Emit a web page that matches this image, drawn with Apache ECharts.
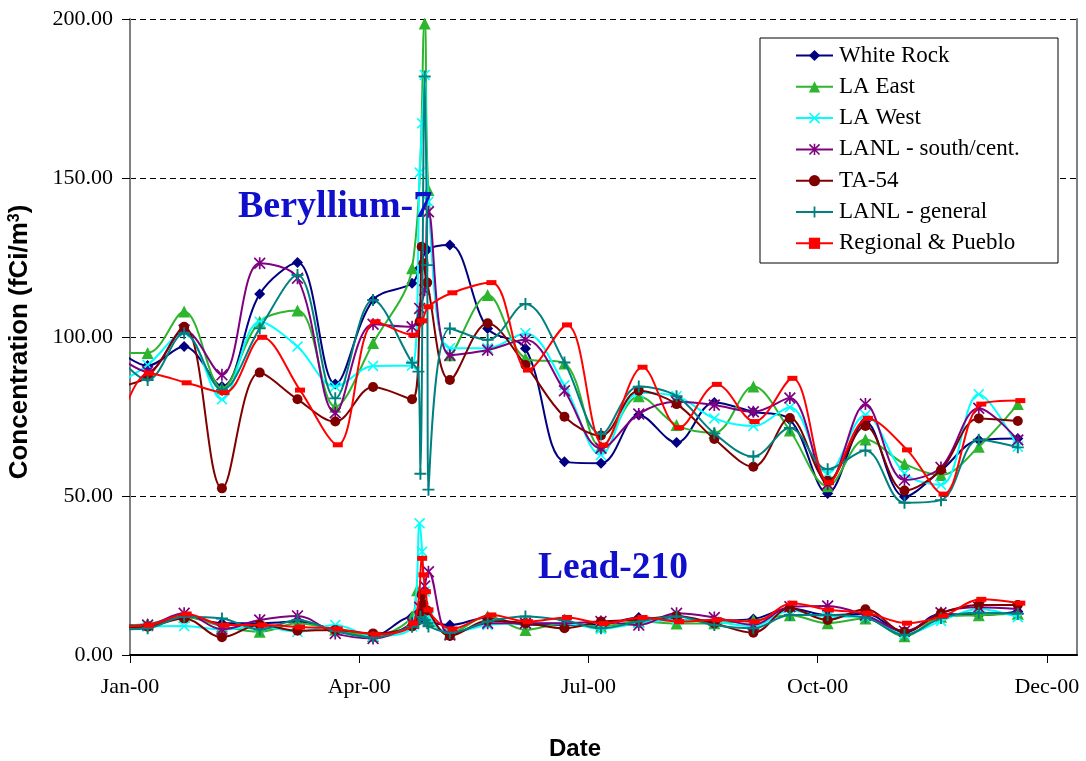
<!DOCTYPE html>
<html><head><meta charset="utf-8">
<script src="https://cdn.jsdelivr.net/npm/echarts@6/dist/echarts.min.js"></script>
<style>html,body{margin:0;padding:0;background:#fff}#c{width:1086px;height:761px}</style>
</head><body><div id="c"></div><script>
// x values are days since 1 Jan 2000
const xTickLabels = ['Jan-00', 'Apr-00', 'Jul-00', 'Oct-00', 'Dec-00'];
const yTickValues = [0, 50, 100, 150, 200];

const wrDays = [-8, 7, 21.5, 36.5, 51.5, 66.5, 81.5, 96.5, 112, 115, 118, 127, 142, 157, 172.5, 187, 202, 217, 232, 247.5, 262, 277, 292, 307.5, 322, 337, 352.5];
const wrBe7  = [98, 91, 97, 84.4, 113.5, 123.4, 85.2, 111.6, 116.9, 121.6, 127.4, 128.9, 102.7, 96.4, 60.8, 60.3, 75.5, 66.8, 79.4, 76.5, 74, 50.8, 73.4, 49.8, 58, 67.6, 68.1];
const wrPb   = [9.5, 9.4, 12, 10, 10, 10.5, 8, 6, 12, 11, 10.5, 9.4, 11.8, 9.5, 9.5, 9.5, 11.8, 11, 10.8, 11.3, 14.7, 12.5, 13, 7, 13, 12.5, 13.7];

const leDays = [-8, 7, 21.5, 36.5, 51.5, 66.5, 81.5, 96.5, 112, 114, 117, 118.5, 127, 142, 157, 172.5, 187, 202, 217, 232, 247.5, 262, 277, 292, 307.5, 322, 337, 352.5];
const leBe7  = [95, 95, 108, 83.9, 104.8, 108.3, 78.1, 98.1, 121.6, null, 198.6, 146.2, 94.3, 113.2, 93.3, 91.7, 65.5, 81.4, 72.3, 69.9, 84.4, 70.6, 53.1, 67.8, 60.1, 56.6, 65.5, 78.9];
const lePb   = [9, 9.8, 12, 9, 7.3, 10, 8, 6, 12, 20.4, 14, 11, 7, 12.2, 7.9, 10, 9, 10.5, 9.9, 10, 10.9, 12.5, 10, 11.5, 5.9, 12, 12.5, 13];

const lwDays = [-8, 7, 21.5, 36.5, 51.5, 66.5, 81.5, 96.5, 112, 115, 116, 117, 118.5, 127, 142, 157, 172.5, 187, 202, 217, 232, 247.5, 262, 277, 292, 307.5, 322, 337, 352.5];
const lwBe7  = [84, 91.2, 101.5, 80.4, 104.8, 97, 84.4, 90.9, 91, 151.7, 167.2, 182.4, 142.5, 96.5, 96.5, 101.2, 84.8, 62.9, 82.5, 81.4, 74.4, 72, 77.9, 57.1, 75.5, 57.1, 53.5, 82, 65.5];
const lwPb   = [8.5, 9, 9.1, 8, 9, 7.3, 9.4, 6, 9, 41.4, 32.5, 20, 12, 7, 9.4, 10, 10, 8.2, 10, 11, 10.5, 9, 14, 12, 12, 6.5, 10.7, 14.5, 11.9];

const lsDays = [-8, 7, 21.5, 36.5, 51.5, 66.5, 81.5, 96.5, 112, 115, 117, 118.5, 127, 142, 157, 172.5, 187, 202, 217, 232, 247.5, 262, 277, 292, 307.5, 322, 337, 352.5];
const lsBe7  = [96, 89.1, 102.2, 88.1, 123.2, 118.5, 76.2, 104, 103.2, 109, 114.8, 139.4, 94.3, 95.9, 99.1, 83.1, 65, 75.8, 79.6, 78.6, 76.5, 80.8, 53.8, 78.9, 55, 59, 77.6, 67.6];
const lsPb   = [9, 9.4, 13.1, 8.1, 11, 12.3, 6.8, 5.2, 10, 15, 21.7, 26.2, 6.3, 10, 10, 10, 10.5, 9.4, 13.1, 11.8, 9.5, 15.2, 15.4, 12.5, 7.5, 13.3, 15, 14.5];

const taDays = [-8, 7, 21.5, 36.5, 51.5, 66.5, 81.5, 96.5, 112, 115, 115.8, 116.5, 118, 127, 142, 157, 172.5, 187, 202, 217, 232, 247.5, 262, 277, 292, 307.5, 322, 337, 352.5];
const taBe7  = [84, 87.5, 103.2, 52.4, 88.8, 80.4, 73.4, 84.3, 80.4, 104.8, 128.4, 123.2, 117.1, 86.5, 104.3, 91.2, 74.9, 69, 83.1, 78.9, 67.9, 59.2, 74.5, 54.8, 72, 51.7, 58.2, 74.4, 73.6];
const taPb   = [8.5, 8.9, 11.5, 5.6, 9.5, 7.6, 7.9, 6.8, 9, 13, 18.9, 16, 14, 6, 10.8, 10.1, 8.4, 10.5, 11.1, 12.3, 9.9, 7, 14.7, 11, 14.4, 7.3, 13.1, 15.7, 15.7];

const lgDays = [-8, 7, 21.5, 36.5, 51.5, 66.5, 81.5, 96.5, 112, 114.5, 115.3, 117, 118, 118.5, 127, 142, 157, 172.5, 187, 202, 217, 232, 247.5, 262, 277, 292, 307.5, 322, 337, 352.5];
const lgBe7  = [97, 86.5, 101.2, 83.4, 102.7, 119.5, 80.7, 111.6, 91.9, 89.1, 57, 181.9, 122.6, 52, 102.7, 99.1, 110.4, 92, 69.5, 84.4, 81.4, 69.7, 62.4, 71.4, 58.4, 64.3, 47.9, 48.7, 67.7, 65.3];
const lgPb   = [8, 8.4, 12, 11.5, 8, 11, 7.5, 5.5, 8.9, 10, 12, 11, 10, 9, 7, 10.5, 12.1, 10.9, 8.4, 10.5, 12.1, 9.4, 8.4, 12.6, 12.6, 11.8, 6.3, 11.6, 13.3, 13];

const rpDays = [-8, 7.5, 22.5, 37.5, 52.5, 67.5, 82.5, 97.5, 112.5, 116, 116.5, 117.5, 118.5, 128, 143.5, 158, 173.5, 188, 203.5, 218, 233, 248, 263, 277.5, 293, 308.5, 323, 338, 353.5];
const rpBe7  = [62, 88.6, 85.6, 82.5, 99.9, 83.3, 66.1, 104.8, 100.6, 105.1, null, null, 109.5, 113.9, 117.1, 89.6, 103.8, 66, 90.5, 71.5, 85.1, 73.4, 87, 54.2, 74.4, 64.5, 50.6, 78.9, 80];
const rpPb   = [9, 9.4, 12.9, 9.4, 9.4, 8.8, 8.2, 6.5, 10, 30.4, 25.2, 19.9, 14.2, 8.2, 12.6, 10.5, 11.8, 9.9, 11.8, 10.5, 11.1, 10.5, 16.3, 14.2, 13.1, 10, 12.3, 17.5, 16.3];

const SYM_X = 'path://M0,1 L1,0 L5,4 L9,0 L10,1 L6,5 L10,9 L9,10 L5,6 L1,10 L0,9 L4,5 Z';
const SYM_STAR = 'path://M0,1 L1,0 L5,4 L9,0 L10,1 L6,5 L10,9 L9,10 L5,6 L1,10 L0,9 L4,5 Z M4.3,0 L5.7,0 L5.7,10 L4.3,10 Z';
const SYM_PLUS = 'path://M4.2,0 L5.8,0 L5.8,4.2 L10,4.2 L10,5.8 L5.8,5.8 L5.8,10 L4.2,10 L4.2,5.8 L0,5.8 L0,4.2 L4.2,4.2 Z';
const SYM_BAR = 'path://M0,0 L10,0 L10,5 L0,5 Z';

const stations = [
  { name: 'White Rock', color: '#000080', symbol: 'diamond', size: 11, days: wrDays, be: wrBe7, pb: wrPb },
  { name: 'LA East', color: '#2DB52D', symbol: 'triangle', size: 12, days: leDays, be: leBe7, pb: lePb },
  { name: 'LA West', color: '#00FFFF', symbol: SYM_X, size: 11, days: lwDays, be: lwBe7, pb: lwPb },
  { name: 'LANL - south/cent.', color: '#800080', symbol: SYM_STAR, size: 12, days: lsDays, be: lsBe7, pb: lsPb },
  { name: 'TA-54', color: '#800000', symbol: 'circle', size: 10, days: taDays, be: taBe7, pb: taPb },
  { name: 'LANL - general', color: '#008080', symbol: SYM_PLUS, size: 12, days: lgDays, be: lgBe7, pb: lgPb },
  { name: 'Regional & Pueblo', color: '#FF0000', symbol: SYM_BAR, size: 10, days: rpDays, be: rpBe7, pb: rpPb }
];

const series = [];
stations.forEach((s, k) => {
  [s.be, s.pb].forEach((vals) => {
    series.push({
      type: 'line', name: s.name,
      data: s.days.map((d, i) => [d, vals[i]]),
      smooth: 0.35, connectNulls: true, clip: true,
      symbol: s.symbol, symbolSize: s.size, symbolKeepAspect: true,
      showSymbol: true, showAllSymbol: true,
      lineStyle: { color: s.color, width: 2 },
      itemStyle: { color: s.color, borderWidth: 0 },
      emphasis: { disabled: true },
      z: 2 + k * 0.01
    });
  });
});

const chart = echarts.init(document.getElementById('c'), null, { renderer: 'canvas' });
chart.setOption({
  animation: false,
  backgroundColor: '#ffffff',
  grid: { left: 130, right: 9, top: 19, bottom: 106, containLabel: false, outerBoundsMode: 'none' },
  xAxis: {
    type: 'value', min: 0, max: 376, interval: 91,
    axisLine: { show: true, onZero: false, lineStyle: { color: '#000', width: 2 } },
    axisTick: { show: true, length: 8, lineStyle: { color: '#000', width: 1 } },
    splitLine: { show: false },
    axisLabel: {
      margin: 21, color: '#000', fontFamily: 'Liberation Serif', fontSize: 22,
      formatter: (v) => xTickLabels[Math.round(v / 91)] || ''
    },
    name: 'Date', nameLocation: 'middle', nameGap: 82,
    nameTextStyle: { fontFamily: 'Liberation Sans', fontWeight: 'bold', fontSize: 24, color: '#000', padding: [0, 57, 0, 0] }
  },
  yAxis: [{
    type: 'value', min: yTickValues[0], max: yTickValues[yTickValues.length - 1], interval: 50,
    axisLine: { show: true, lineStyle: { color: '#808080', width: 2 } },
    axisTick: { show: true, length: 8, lineStyle: { color: '#000', width: 1 } },
    splitLine: { show: true, lineStyle: { color: '#000', width: 1, type: [6, 4] } },
    axisLabel: { margin: 17, color: '#000', fontFamily: 'Liberation Serif', fontSize: 22, formatter: (v) => v.toFixed(2) },
    name: 'Concentration (fCi/m{sup|3})', nameLocation: 'middle', nameGap: 97,
    nameTextStyle: { fontFamily: 'Liberation Sans', fontWeight: 'bold', fontSize: 26, color: '#000', padding: [0, 10, 0, 0],
      rich: { sup: { fontFamily: 'Liberation Sans', fontWeight: 'bold', fontSize: 16, verticalAlign: 'top', padding: [0, 0, 10, 0] } } }
  }, {
    type: 'value', position: 'right', min: 0, max: 200,
    axisLine: { show: true, lineStyle: { color: '#808080', width: 2 } },
    axisTick: { show: false }, axisLabel: { show: false }, splitLine: { show: false }
  }],
  legend: {
    orient: 'vertical', left: 795, top: 44, padding: 0, itemGap: 8.3,
    itemWidth: 37, itemHeight: 14, symbolKeepAspect: true,
    data: stations.map(s => s.name),
    textStyle: { fontFamily: 'Liberation Serif', fontSize: 23, color: '#000', lineHeight: 23, padding: [0, 0, 0, 1] },
    z: 6
  },
  graphic: [
    { type: 'rect', z: 5, shape: { x: 760, y: 38, width: 298, height: 225 }, style: { fill: '#fff', stroke: '#000', lineWidth: 1 } },
    { type: 'text', z: 5, left: 238, top: 188, style: { text: 'Beryllium-7', font: 'bold 38px "Liberation Serif"', fill: '#1010CC' } },
    { type: 'text', z: 5, left: 538, top: 549, style: { text: 'Lead-210', font: 'bold 37.5px "Liberation Serif"', fill: '#1010CC' } }
  ],
  series: series
});
</script></body></html>
